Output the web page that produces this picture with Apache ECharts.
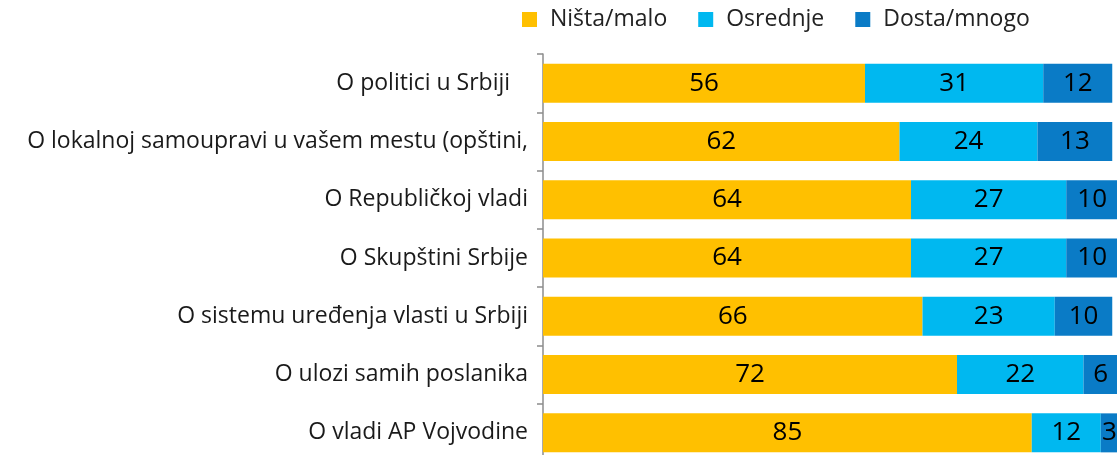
<!DOCTYPE html>
<html>
<head>
<meta charset="utf-8">
<script src="https://cdn.jsdelivr.net/npm/echarts@6/dist/echarts.min.js"></script>
<style>
  html, body { margin: 0; padding: 0; background: #fff; }
  #chart { width: 1117px; height: 455px; }
</style>
</head>
<body>
<div id="chart"></div>
<script>
const categories = [
  'O politici u Srbiji   ',
  'O lokalnoj samoupravi u vašem mestu (opštini,',
  'O Republičkoj vladi',
  'O Skupštini Srbije',
  'O sistemu uređenja vlasti u Srbiji',
  'O ulozi samih poslanika',
  'O vladi AP Vojvodine'
];
const nistaMalo = [56, 62, 64, 64, 66, 72, 85];
const osrednje = [31, 24, 27, 27, 23, 22, 12];
const dostaMnogo = [12, 13, 10, 10, 10, 6, 3];

const colors = {'Ništa/malo': '#FFC000', 'Osrednje': '#00B8F0', 'Dosta/mnogo': '#0A7BC6'};
const font = 'Open Sans';

const chart = echarts.init(document.getElementById('chart'));

function seriesOf(name, data) {
  return {
    name: name,
    type: 'bar',
    stack: 'all',
    barWidth: 39,
    data: data,
    itemStyle: {color: colors[name]},
    label: {
      show: true,
      position: 'inside',
      color: '#000',
      fontFamily: font,
      fontSize: 26
    }
  };
}

chart.setOption({
  animation: false,
  textStyle: {fontFamily: font},
  legend: {
    left: 522,
    top: 8,
    padding: 0,
    icon: 'rect',
    itemWidth: 15,
    itemHeight: 15,
    itemGap: 31,
    textStyle: {fontSize: 23, color: '#222', fontFamily: font, padding: [0, 0, 0, 8]},
    data: ['Ništa/malo', 'Osrednje', 'Dosta/mnogo']
  },
  // the plot runs past the bottom edge of the picture
  grid: {left: 543, width: 575, top: 54, height: 408, outerBoundsMode: 'none'},
  xAxis: {
    type: 'value',
    min: 0,
    max: 100,
    show: false
  },
  yAxis: {
    type: 'category',
    inverse: true,
    data: categories,
    axisLine: {lineStyle: {color: '#8c8c8c', width: 1.5}},
    axisTick: {show: true, length: 6, lineStyle: {color: '#8c8c8c', width: 1.5}},
    axisLabel: {color: '#1a1a1a', fontSize: 23, fontFamily: font, margin: 15}
  },
  series: [
    seriesOf('Ništa/malo', nistaMalo),
    seriesOf('Osrednje', osrednje),
    seriesOf('Dosta/mnogo', dostaMnogo)
  ]
});
</script>
</body>
</html>
